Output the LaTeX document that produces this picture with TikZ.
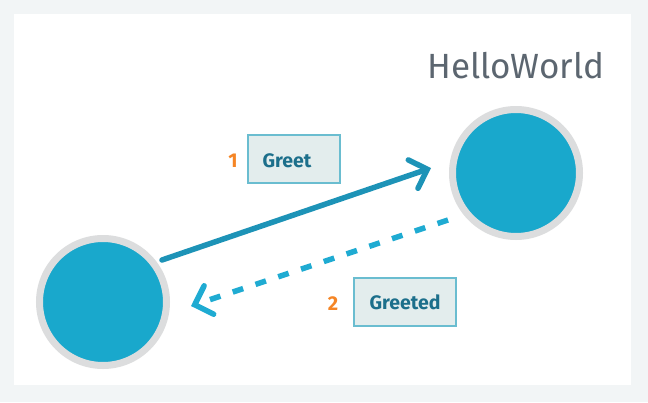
\documentclass[tikz,border=0pt]{standalone}
\usepackage{fontspec}
\setmainfont{Fira Sans}
\usetikzlibrary{arrows.meta,calc}
\definecolor{bgout}{HTML}{F2F5F6}
\definecolor{ring}{HTML}{DCDDDE}
\definecolor{ball}{HTML}{19A8CC}
\definecolor{arrowA}{HTML}{1D93B7}
\definecolor{arrowB}{HTML}{1FABD2}
\definecolor{boxfill}{HTML}{E3EDED}
\definecolor{boxline}{HTML}{6ABDD0}
\definecolor{msgtext}{HTML}{1C6F8B}
\definecolor{numcol}{HTML}{F58525}
\definecolor{titlecol}{HTML}{5C6670}
\tikzset{
  actor/.style={circle, draw=ring, line width=7pt, fill=ball, minimum size=127pt, inner sep=0pt},
  msgbox/.style={draw=boxline, fill=boxfill, line width=1.8pt, minimum height=48pt, inner sep=0pt},
  msgtxt/.style={font=\bfseries\fontsize{19.5}{22}\selectfont, text=msgtext, inner sep=0pt},
  numlbl/.style={font=\bfseries\fontsize{20}{22}\selectfont, text=numcol},
  conn/.style={line width=5.5pt, line cap=round, -{Straight Barb[length=15pt,width=30pt,line cap=round]}}
}
\begin{document}
\begin{tikzpicture}[x=1pt,y=-1pt]
\fill[bgout] (0,0) rectangle (648,402);
\fill[white] (14,14) rectangle (631,385);
\useasboundingbox (0,0) rectangle (648,402);
\node[actor] (lc) at (103,302) {};
\node[actor] (rc) at (516,173) {};
\node[anchor=base east, text=titlecol, font=\fontsize{35}{40}\selectfont] (title) at (608,78) {HelloWorld};
\node[msgbox, minimum width=92pt] (greet) at (294,159) {};
\node[msgtxt] (greettxt) at (287,161) {Greet};
\node[numlbl] (n1) at (233,161) {1};
\node[msgbox, minimum width=102pt] (greeted) at (405,302) {};
\node[msgtxt] (greetedtxt) at (405,302) {Greeted};
\node[numlbl] (n2) at (333,304) {2};
\coordinate (s1) at ($(lc)+(59,-42)$);
\coordinate (e1) at ($(rc)+(-85,-5)$);
\coordinate (s2) at ($(rc)+(-68,47)$);
\coordinate (e2) at ($(lc)+(88,4)$);
\draw[conn, arrowA] (s1) -- (e1);
\draw[conn, arrowB, dash pattern=on 11pt off 13pt, line cap=butt] (s2) -- (e2);
\end{tikzpicture}
\end{document}
